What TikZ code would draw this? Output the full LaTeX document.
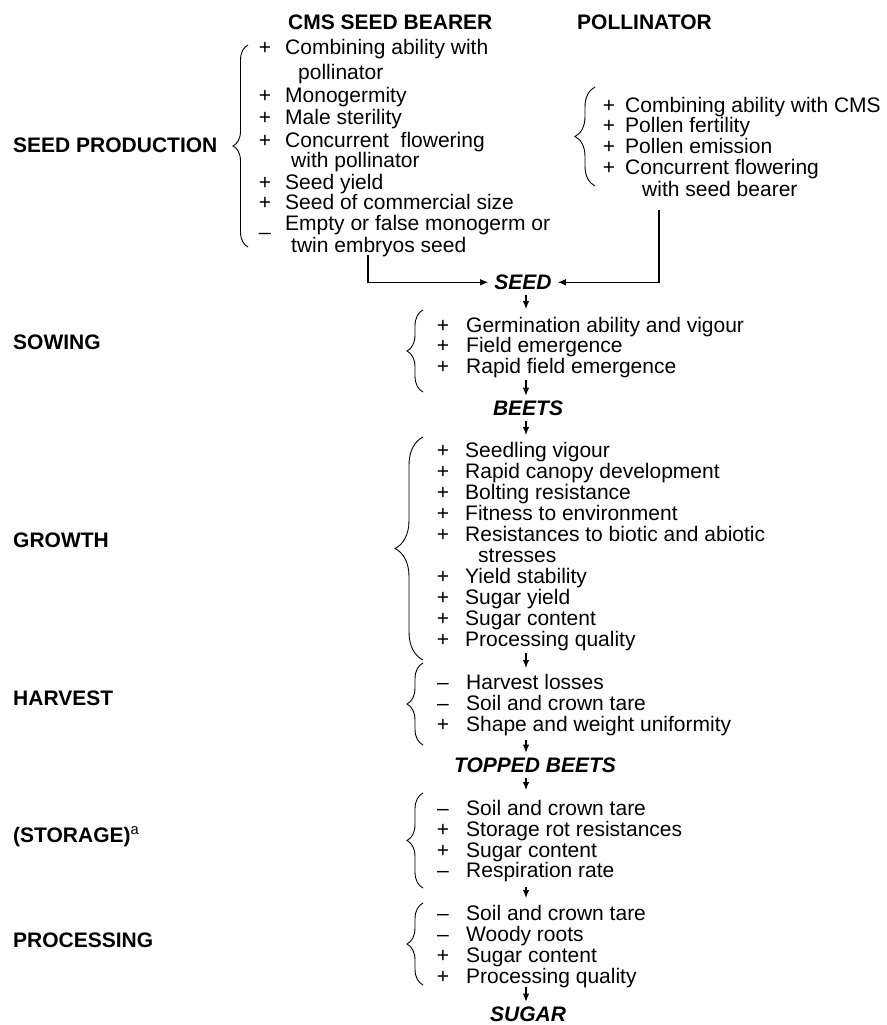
\documentclass[tikz,border=0pt]{standalone}
\usepackage{fontspec}
\setmainfont{Liberation Sans}
\usetikzlibrary{arrows.meta}
\usetikzlibrary{decorations.pathreplacing}

\newcommand{\figfont}{\fontsize{21}{21}\selectfont}

\tikzset{
	head/.style={font=\figfont\bfseries, anchor=base west, inner sep=0pt},
	stage/.style={font=\figfont\bfseries, anchor=base west, inner sep=0pt},
	trait/.style={font=\figfont, anchor=base west, inner sep=0pt},
	sign/.style={font=\figfont, anchor=base, inner sep=0pt},
	product/.style={font=\figfont\bfseries\itshape, anchor=base, inner xsep=6pt, inner ysep=5pt},
	flow/.style={line width=1.1pt, -{Latex[length=8pt,width=6.5pt]}},
	curly/.style={decorate, decoration={brace, amplitude=#1}, line width=0.9pt},
}

\begin{document}
\begin{tikzpicture}[x=1pt,y=-1pt]
	\useasboundingbox (0,0) rectangle (886,1025);

	% column heads
	\node[head](cms) at (288,30) {CMS SEED BEARER};
	\node[head](pol) at (577,30) {POLLINATOR};

	% stages
	\node[stage](seedprod) at (13,152.5) {SEED PRODUCTION};
	\node[stage](sowing) at (13,349.5) {SOWING};
	\node[stage](growth) at (13,547.5) {GROWTH};
	\node[stage](harvest) at (13,705.5) {HARVEST};
	\node[stage](storage) at (13,842) {(STORAGE)\textsuperscript{\mdseries a}};
	\node[stage](processing) at (13,947.5) {PROCESSING};

	% products
	\node[product](seed) at (523,289.5) {SEED};
	\node[product](beets) at (528,415.5) {BEETS};
	\node[product](topped) at (535,772.5) {TOPPED BEETS};
	\node[product](sugar) at (528,1021.5) {SUGAR};

	% seed bearer
	\foreach \y/\s/\t [count=\i] in {55/+/Combining ability with, 102/+/Monogermity, 124/+/Male sterility, 147/+/Concurrent\ \ flowering, 189/+/Seed yield, 209/+/Seed of commercial size, 230/\_/Empty or false monogerm or} {
		\node[sign](sbs\i) at (265,\y) {\s};
		\node[trait](sbt\i) at (285,\y) {\t};
	}
	\node[trait](sbc1) at (298,79) {pollinator};
	\node[trait](sbc2) at (291,167) {with pollinator};
	\node[trait](sbc3) at (291,252) {twin embryos seed};
	\draw[curly=15pt] (248,247) -- (248,45);

	% pollinator
	\foreach \y/\t [count=\i] in {112/Combining ability with CMS, 132/Pollen fertility, 153/Pollen emission, 174/Concurrent flowering} {
		\node[sign](pos\i) at (609,\y) {+};
		\node[trait](pot\i) at (625,\y) {\t};
	}
	\node[trait](poc1) at (642,196) {with seed bearer};
	\draw[curly=20pt] (595,186) -- (595,87);

	% sowing
	\foreach \y/\s/\t [count=\i] in {332/+/Germination ability and vigour, 352.5/+/Field emergence, 373/+/Rapid field emergence} {
		\node[sign](sws\i) at (443,\y) {\s};
		\node[trait](swt\i) at (466,\y) {\t};
	}
	\draw[curly=16pt] (423,392) -- (423,310);

	% growth
	\foreach \y/\s/\t [count=\i] in {457/+/Seedling vigour, 478/+/Rapid canopy development, 499/+/Bolting resistance, 520/+/Fitness to environment, 541/+/Resistances to biotic and abiotic, 583/+/Yield stability, 604/+/Sugar yield, 625/+/Sugar content, 646/+/Processing quality} {
		\node[sign](grs\i) at (443,\y) {\s};
		\node[trait](grt\i) at (465,\y) {\t};
	}
	\node[trait](grc1) at (478,562) {stresses};
	\draw[curly=28pt] (423,660) -- (423,437);

	% harvest
	\foreach \y/\s/\t [count=\i] in {689/–/Harvest losses, 710/–/Soil and crown tare, 731/+/Shape and weight uniformity} {
		\node[sign](hvs\i) at (443,\y) {\s};
		\node[trait](hvt\i) at (466,\y) {\t};
	}
	\draw[curly=16pt] (423,745) -- (423,663);

	% storage
	\foreach \y/\s/\t [count=\i] in {815/–/Soil and crown tare, 836/+/Storage rot resistances, 857/+/Sugar content, 877/–/Respiration rate} {
		\node[sign](sts\i) at (443,\y) {\s};
		\node[trait](stt\i) at (466,\y) {\t};
	}
	\draw[curly=16pt] (423,888) -- (423,793);

	% processing
	\foreach \y/\s/\t [count=\i] in {920/–/Soil and crown tare, 941/–/Woody roots, 962/+/Sugar content, 983/+/Processing quality} {
		\node[sign](prs\i) at (443,\y) {\s};
		\node[trait](prt\i) at (466,\y) {\t};
	}
	\draw[curly=16pt] (423,985) -- (423,903);

	% connectors
	\coordinate (sbfoot) at (368,255);
	\coordinate (polfoot) at (659,210);
	\coordinate (sowtop) at (526,309);
	\coordinate (sowbot) at (526,380);
	\coordinate (growtop) at (526,435);
	\coordinate (growbot) at (526,653);
	\coordinate (harvtop) at (526,668);
	\coordinate (harvbot) at (526,740);
	\coordinate (stortop) at (526,790);
	\coordinate (storbot) at (526,887);
	\coordinate (proctop) at (526,898);
	\coordinate (procbot) at (526,987);

	\draw[flow] (sbfoot) |- (seed.west);
	\draw[flow] (polfoot) |- (seed.east);
	\draw[flow] (seed.south -| sowtop) -- (sowtop);
	\draw[flow] (sowbot) -- (sowbot |- beets.north);
	\draw[flow] (beets.south -| growtop) -- (growtop);
	\draw[flow] (growbot) -- (harvtop);
	\draw[flow] (harvbot) -- (harvbot |- topped.north);
	\draw[flow] (topped.south -| stortop) -- (stortop);
	\draw[flow] (storbot) -- (proctop);
	\draw[flow] (procbot) -- (procbot |- sugar.north);
\end{tikzpicture}
\end{document}
